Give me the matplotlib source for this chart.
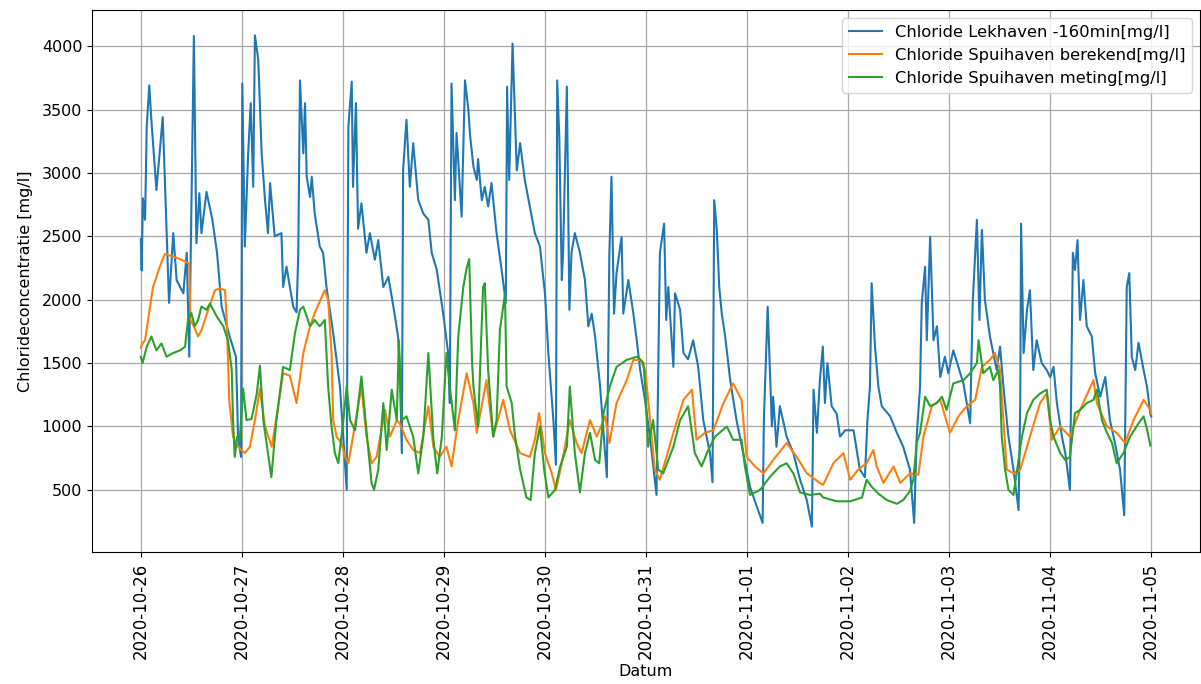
import numpy as np
import pandas as pd
import matplotlib
matplotlib.use("Agg")
import matplotlib.pyplot as plt
import matplotlib.dates as mdates

start = pd.Timestamp("2020-10-26 00:00")

# Chloride Lekhaven, shifted -160 min: hours since start, value [mg/l]
lek_hours = [
    0.0, 0.2, 0.5, 1.0, 1.4, 2.0, 2.5, 3.7, 5.2, 6.7, 7.7, 8.5, 10.1, 10.9, 11.5,
    12.6, 13.2, 13.9, 14.4, 15.6, 17.0, 18.1, 19.2, 21.1, 22.6, 23.1, 23.8, 24.1,
    24.7, 25.5, 26.1, 26.7, 27.1, 27.9, 28.7, 29.5, 30.2, 30.7, 31.8, 33.4, 33.8,
    34.6, 36.2, 37.0, 37.4, 37.8, 38.6, 39.0, 39.4, 40.2, 40.6, 41.3, 42.5, 43.3,
    44.1, 45.7, 47.3, 48.9, 49.3, 50.1, 50.4, 51.1, 51.6, 52.4, 53.6, 54.4, 55.6,
    56.4, 57.6, 58.8, 60.0, 61.1, 61.5, 62.0, 62.3, 63.1, 63.9, 64.7, 65.9, 67.1,
    68.3, 69.1, 70.3, 71.8, 73.0, 73.4, 73.8, 74.6, 75.0, 76.2, 77.0, 77.8, 78.2,
    79.0, 79.8, 80.1, 81.0, 81.7, 82.5, 83.3, 84.5, 85.7, 86.7, 87.0, 87.5, 88.3,
    89.3, 90.1, 91.2, 92.4, 93.6, 94.8, 96.0, 96.8, 98.0, 98.6, 98.9, 99.4, 100.0,
    100.3, 101.2, 101.8, 102.3, 103.1, 104.3, 105.5, 106.3, 107.1, 107.9, 109.1,
    110.7, 111.3, 111.8, 112.4, 113.0, 114.2, 114.6, 115.8, 117.0, 117.8, 118.6,
    119.8, 121.0, 122.5, 123.3, 124.3, 124.8, 125.3, 126.5, 126.9, 128.1, 128.9,
    130.0, 131.2, 132.4, 133.6, 135.2, 135.8, 136.2, 136.8, 137.4, 138.0, 138.8,
    140.0, 141.5, 143.1, 144.7, 146.3, 147.7, 148.0, 148.9, 149.9, 150.2, 151.0,
    151.8, 153.4, 155.0, 156.6, 158.2, 159.4, 159.8, 160.6, 161.3, 162.0, 162.5,
    163.1, 164.1, 165.3, 166.1, 167.3, 169.3, 170.8, 172.0, 172.6, 173.2, 173.6,
    174.4, 175.2, 176.0, 178.0, 179.6, 181.1, 182.7, 183.7, 184.3, 185.1, 185.5,
    186.3, 186.7, 187.5, 188.3, 189.1, 189.9, 191.0, 191.8, 193.0, 194.2, 195.4,
    197.0, 197.6, 198.6, 199.2, 199.8, 200.5, 201.7, 203.3, 204.1, 204.9, 206.1,
    207.3, 208.5, 208.9, 209.1, 209.7, 210.5, 211.2, 212.0, 212.8, 214.0, 215.2,
    216.0, 216.8, 217.6, 218.8, 219.6, 220.7, 221.4, 221.9, 222.5, 223.1, 223.9,
    224.7, 225.9, 226.7, 227.9, 229.1, 230.2, 231.4, 232.6, 233.6, 234.2, 234.8,
    235.4, 236.2, 237.0, 238.2, 239.0, 239.8, 240.0,
]
lek_values = [
    2480, 2230, 2800, 2630, 3365, 3690, 3420, 2865, 3440, 1975, 2525, 2155, 2050, 2370, 1550,
    4080, 2445, 2840, 2525, 2850, 2630, 2370, 1945, 1710, 1550, 920, 760, 3705,
    2420, 3155, 3550, 2890, 4085, 3890, 3155, 2785, 2525, 2920, 2500, 2525, 2100,
    2260, 1945, 1900, 2370, 3730, 3155, 3550, 2970, 2810, 2970, 2680, 2420, 2370,
    2100, 1735, 1315, 500, 3365, 3720, 2890, 3550, 2560, 2760, 2370, 2525, 2315,
    2470, 2100, 2180, 1945, 1710, 1470, 790, 3020, 3420, 2890, 3235, 2785, 2680,
    2630, 2370, 2235, 1895, 1580, 1185, 3705, 2785, 3315, 2655, 3730, 3500, 3300,
    3050, 2945, 3110, 2785, 2890, 2735, 2920, 2525, 2235, 1975, 3680, 2945, 4020,
    3020, 3235, 2945, 2735, 2525, 2420, 2050, 1580, 1050, 700, 3730, 3285, 2155,
    2370, 3680, 1920, 2370, 2525, 2370, 2155, 1790, 1890, 1710, 1315,
    600, 2370, 2970, 1890, 2210, 2495, 1890, 2155, 1890, 1680, 1450,
    1200, 900, 460, 2370, 2600, 1840, 2100, 1470, 2050, 1920, 1580,
    1530, 1680, 1470, 1050, 790, 560, 2785, 2560, 2100, 1890, 1710,
    1365, 1050, 790, 525, 370, 240, 1050, 1945, 1000, 1235, 840,
    1160, 920, 790, 580, 420, 210, 1290, 950, 1365, 1630, 1185,
    1500, 1160, 1100, 920, 970, 970, 660, 600, 1050, 1315, 2130,
    1630, 1315, 1160, 1080, 950, 840, 660, 240, 920, 1315, 1970,
    2260, 1680, 2495, 1680, 1790, 1390, 1550, 1420, 1600, 1470, 1340,
    1025, 1970, 2630, 1840, 2550, 2000, 1710, 1445, 1630, 1315, 920,
    660, 340, 1185, 2600, 1580, 1920, 2075, 1445, 1680, 1500, 1445,
    1390, 1470, 1185, 920, 790, 500, 2370, 2235, 2470, 1840, 2155,
    1790, 1710, 1420, 1235, 1390, 1050, 870, 660, 300, 2100, 2210,
    1550, 1445, 1660, 1445, 1315, 1100, 1080,
]

# Chloride Spuihaven, calculated
calc_hours = [
    0.0, 0.4, 1.0, 2.9, 4.5, 5.7, 7.7, 9.3, 11.5, 11.8, 12.6, 13.6, 14.4, 16.0,
    17.6, 18.8, 20.0, 20.4, 21.0, 21.9, 23.1, 24.7, 25.9, 27.1, 28.3, 29.5, 31.1,
    32.6, 33.8, 35.4, 37.0, 38.6, 40.2, 41.3, 43.7, 44.5, 45.3, 45.7, 46.5, 47.7,
    48.5, 49.3, 50.4, 52.4, 53.6, 54.8, 56.0, 58.0, 59.2, 60.8, 61.5, 63.1, 64.7,
    66.3, 68.3, 69.5, 71.0, 72.6, 73.8, 75.4, 77.4, 79.0, 79.8, 82.1, 83.7, 86.1,
    87.7, 90.1, 92.4, 93.6, 94.6, 96.0, 97.6, 98.6, 100.0, 101.9, 103.5, 104.7,
    106.7, 108.3, 110.3, 111.3, 113.0, 115.4, 117.0, 118.6, 119.8, 120.2, 122.1,
    123.3, 126.5, 128.9, 130.9, 132.0, 134.0, 136.0, 138.4, 140.7, 142.7, 143.9,
    145.9, 147.9, 150.2, 153.4, 155.8, 158.2, 161.3, 162.1, 164.5, 166.9, 168.5,
    170.4, 172.4, 174.0, 174.8, 176.4, 178.8, 180.4, 182.7, 184.7, 185.9, 187.9,
    189.9, 192.2, 194.2, 196.2, 198.2, 199.8, 201.7, 202.9, 204.1, 205.7, 207.3,
    208.9, 211.2, 213.6, 215.2, 216.4, 218.4, 220.7, 223.1, 226.3, 227.1, 229.5,
    231.8, 233.8, 235.8, 238.2, 239.8, 240.0,
]
calc_values = [
    1620, 1655, 1680, 2100, 2260, 2360, 2340, 2320, 2285, 1840, 1790, 1710, 1760, 1920,
    2075, 2090, 2075, 1840, 1210, 920, 840, 790, 840, 1050, 1300, 1000, 840,
    1150, 1420, 1400, 1185, 1580, 1790, 1895, 2075, 2000, 1580, 1050, 920, 865,
    760, 710, 920, 1315, 920, 710, 760, 1130, 920, 1050, 1025, 895, 815,
    790, 1160, 840, 760, 840, 685, 1050, 1420, 1185, 950, 1365, 920, 1210,
    970, 790, 760, 895, 1105, 790, 630, 500, 710, 1050, 870, 790,
    1050, 920, 1080, 870, 1185, 1365, 1525, 1525, 1445, 1315, 660,
    580, 950, 1210, 1290, 895, 950, 970, 1185, 1340, 1210, 760,
    685, 630, 735, 870, 760, 630, 555, 540, 710, 790, 580,
    660, 710, 815, 685, 555, 685, 555, 630, 620, 920, 1160,
    1210, 950, 1080, 1160, 1210, 1470, 1525, 1580, 1445, 660, 630,
    660, 920, 1185, 1260, 895, 1000, 920, 1130, 1365, 1185, 1000,
    950, 870, 1050, 1210, 1130, 1100,
]

# Chloride Spuihaven, measured
meas_hours = [
    0.0, 0.4, 1.4, 2.5, 3.7, 4.9, 6.1, 7.7, 9.3, 10.5, 11.2, 12.0, 12.8, 13.6, 14.4,
    15.6, 16.4, 18.0, 19.6, 20.7, 21.6, 21.9, 22.3, 22.9, 23.5, 24.3, 25.1, 26.3,
    27.5, 28.3, 29.1, 31.0, 32.2, 33.8, 35.4, 36.6, 37.8, 38.6, 40.2, 41.3, 42.5,
    43.7, 44.5, 45.3, 46.1, 46.9, 48.1, 48.9, 49.7, 50.9, 52.4, 53.6, 54.8, 55.4,
    56.4, 57.6, 58.4, 59.6, 60.8, 61.3, 62.0, 63.1, 64.7, 65.9, 67.1, 68.3, 69.5,
    70.4, 71.5, 72.6, 73.4, 74.6, 75.4, 76.6, 77.4, 78.0, 78.7, 79.0, 80.1, 81.3,
    81.7, 82.5, 83.7, 84.5, 85.3, 86.5, 86.9, 88.1, 88.9, 90.1, 91.6, 92.6, 93.6,
    94.8, 95.8, 96.8, 98.4, 99.6, 101.2, 101.9, 103.1, 104.3, 105.5, 106.7, 107.9,
    108.9, 109.9, 111.4, 113.0, 115.4, 117.8, 118.6, 119.4, 119.8, 120.5, 121.7,
    122.9, 124.1, 126.5, 128.1, 130.0, 131.6, 133.2, 134.8, 136.4, 139.2, 140.7,
    142.7, 143.5, 144.7, 147.1, 149.5, 151.8, 153.4, 155.0, 156.6, 159.0, 161.3,
    162.1, 165.3, 168.5, 171.3, 172.4, 173.6, 175.2, 177.2, 179.6, 181.1, 182.7,
    183.5, 184.3, 185.1, 186.3, 187.5, 189.1, 190.3, 191.4, 193.0, 195.4, 197.0,
    198.6, 199.0, 200.1, 201.7, 202.5, 203.7, 204.1, 204.5, 205.3, 206.1, 207.3,
    208.5, 209.3, 210.5, 212.0, 213.6, 215.2, 216.0, 216.8, 218.4, 219.6, 220.7,
    221.9, 223.1, 224.7, 226.3, 227.1, 228.3, 229.5, 230.7, 231.8, 233.4, 235.0,
    237.0, 238.2, 239.0, 239.8,
]
meas_values = [
    1550, 1500, 1630, 1710, 1600, 1655, 1550, 1580, 1600, 1630, 1840, 1895, 1790, 1840, 1945,
    1920, 1970, 1870, 1790, 1680, 1445, 1050, 760, 920, 895, 1300, 1050, 1060,
    1250, 1480, 1050, 600, 1050, 1470, 1445, 1735, 1920, 1945, 1790, 1840, 1790,
    1840, 1315, 1000, 790, 710, 1050, 1315, 1050, 970, 1395, 970, 555, 500,
    660, 1185, 815, 1290, 1050, 1680, 1050, 1080, 920, 630, 920, 1580, 895,
    630, 920, 1580, 1315, 970, 1710, 2100, 2250, 2320, 1500, 1315, 1000, 2100,
    2130, 1445, 920, 1050, 1760, 2050, 1315, 1185, 920, 660, 440, 420, 790,
    1000, 660, 440, 500, 685, 840, 1315, 790, 480, 790, 950, 735,
    710, 1105, 1315, 1470, 1525, 1550, 1530, 1500, 1315, 840, 1050,
    660, 630, 840, 1050, 1160, 790, 685, 815, 920, 1000, 895,
    895, 685, 460, 500, 605, 685, 710, 630, 480, 460, 470,
    440, 410, 410, 440, 580, 525, 470, 420, 390, 420, 490,
    580, 870, 950, 1235, 1160, 1185, 1235, 1130, 1340, 1365, 1420,
    1500, 1680, 1420, 1470, 1365, 1445, 1315, 920, 660, 500, 460,
    735, 920, 1105, 1210, 1260, 1290, 1050, 920, 790, 735, 760,
    1105, 1130, 1185, 1210, 1290, 1050, 950, 870, 710, 790, 920,
    1025, 1080, 980, 850,
]

labels = [
    "Chloride Lekhaven -160min[mg/l]",
    "Chloride Spuihaven berekend[mg/l]",
    "Chloride Spuihaven meting[mg/l]",
]


def to_times(hours):
    return start + pd.to_timedelta(np.asarray(hours, dtype=float), unit="h")


fig = plt.figure(figsize=(12.01, 6.84), dpi=100)
ax = fig.add_axes([92 / 1201, 1 - 552 / 684, (1200 - 92) / 1201, (552 - 10) / 684])

ax.plot(to_times(lek_hours), lek_values, color="C0", lw=1.5, label=labels[0])
ax.plot(to_times(calc_hours), calc_values, color="C1", lw=1.5, label=labels[1])
ax.plot(to_times(meas_hours), meas_values, color="C2", lw=1.5, label=labels[2])

ax.set_xlim(start - pd.Timedelta(hours=11.6), start + pd.Timedelta(hours=251.6))
ax.set_ylim(10, 4285)
ax.set_yticks(np.arange(500, 4001, 500))
ax.xaxis.set_major_locator(mdates.DayLocator())
ax.xaxis.set_major_formatter(mdates.DateFormatter("%Y-%m-%d"))
ax.tick_params(axis="x", labelrotation=90, labelsize=12, pad=4.5)
ax.tick_params(axis="y", labelsize=11.5)

ax.grid(True, color="#a8a8a8", linewidth=0.9)
ax.set_xlabel("Datum", fontsize=11.5, labelpad=3)
ax.set_ylabel("Chlorideconcentratie [mg/l]", fontsize=11.5, labelpad=6)
ax.legend(loc="upper right", fontsize=11.8)

fig.savefig("out.png", dpi=100)
